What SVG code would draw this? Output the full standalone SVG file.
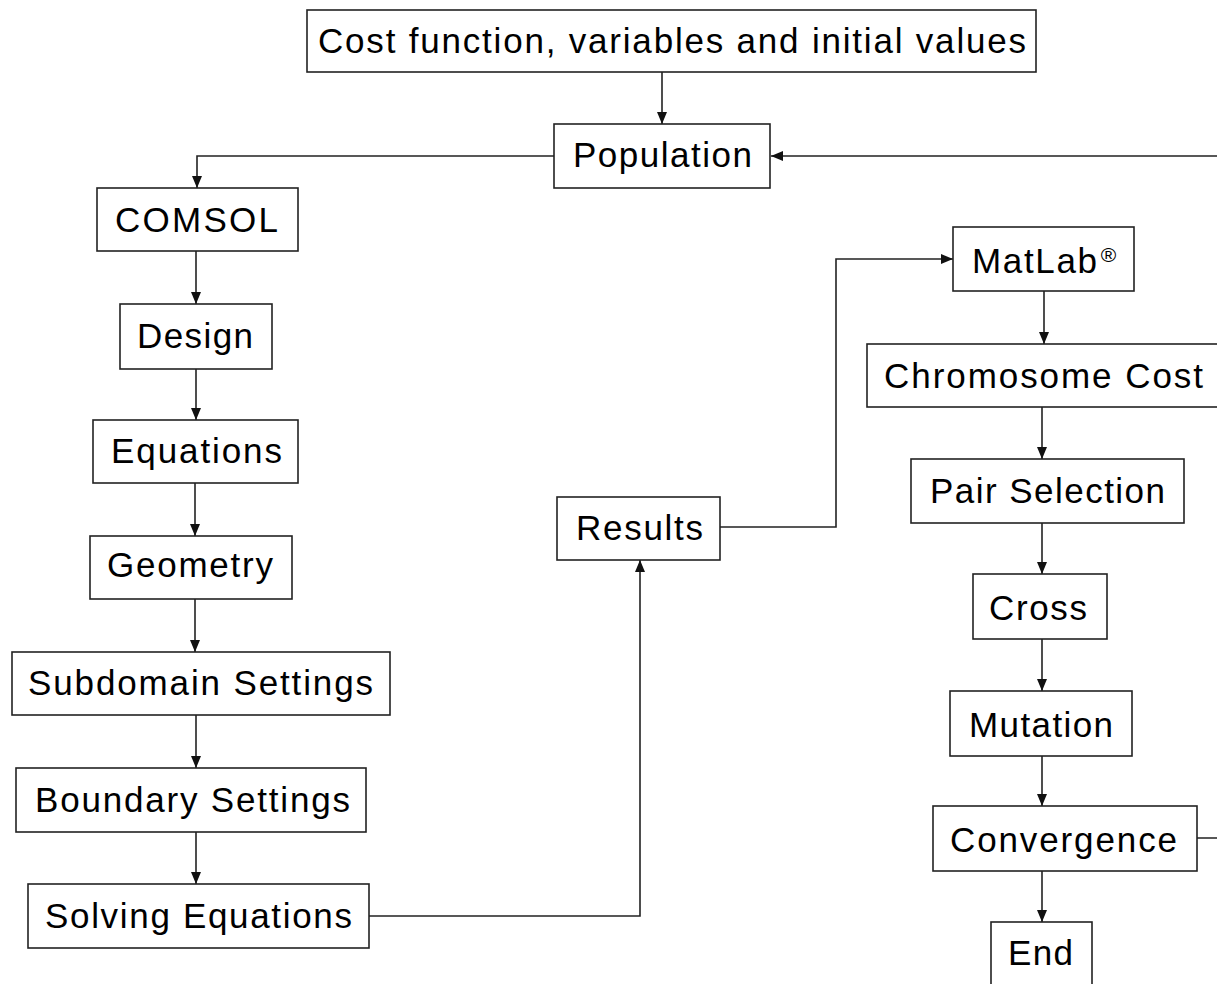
<svg xmlns="http://www.w3.org/2000/svg" width="1217" height="984" viewBox="0 0 1217 984">
<style>
  .box { fill: #ffffff; stroke: #222222; stroke-width: 1.6; }
  .lbl { font-family: "Liberation Sans", Arial, sans-serif; font-size: 35px; fill: #000000; text-anchor: middle; }
  .sup { font-size: 21px; }
  .conn { fill: none; stroke: #222222; stroke-width: 1.6; }
</style>
<defs>
  <marker id="arr" markerUnits="userSpaceOnUse" markerWidth="12" markerHeight="10" viewBox="0 0 12 10" refX="12" refY="5" orient="auto">
    <path d="M0,0 L12,5 L0,10 z" fill="#111111"/>
  </marker>
</defs>
<rect width="1217" height="984" fill="#ffffff"/>

<g id="connectors">
  <path class="conn" marker-end="url(#arr)" d="M662,72 V124"/>
  <path class="conn" marker-end="url(#arr)" d="M554,156 H197 V188"/>
  <path class="conn" marker-end="url(#arr)" d="M196,251 V304"/>
  <path class="conn" marker-end="url(#arr)" d="M196,369 V420"/>
  <path class="conn" marker-end="url(#arr)" d="M195,483 V536"/>
  <path class="conn" marker-end="url(#arr)" d="M195,599 V652"/>
  <path class="conn" marker-end="url(#arr)" d="M196,715 V768"/>
  <path class="conn" marker-end="url(#arr)" d="M196,832 V884"/>
  <path class="conn" marker-end="url(#arr)" d="M369,916 H640 V560"/>
  <path class="conn" marker-end="url(#arr)" d="M720,527 H836 V259 H953"/>
  <path class="conn" marker-end="url(#arr)" d="M1044,291 V344"/>
  <path class="conn" marker-end="url(#arr)" d="M1042,407 V459"/>
  <path class="conn" marker-end="url(#arr)" d="M1042,523 V574"/>
  <path class="conn" marker-end="url(#arr)" d="M1042,639 V691"/>
  <path class="conn" marker-end="url(#arr)" d="M1042,756 V806"/>
  <path class="conn" marker-end="url(#arr)" d="M1042,871 V922"/>
  <path class="conn" marker-end="url(#arr)" d="M1197,838 H1240 V156 H771"/>
</g>

<g id="cost-function">
  <rect class="box" x="307" y="10" width="729" height="62"/>
  <text class="lbl" x="672" y="53" textLength="708" lengthAdjust="spacing">Cost function, variables and initial values</text>
</g>
<g id="population">
  <rect class="box" x="554" y="124" width="216" height="64"/>
  <text class="lbl" x="662.5" y="167" textLength="179" lengthAdjust="spacing">Population</text>
</g>
<g id="comsol">
  <rect class="box" x="97" y="188" width="201" height="63"/>
  <text class="lbl" x="196.5" y="232" textLength="163" lengthAdjust="spacing">COMSOL</text>
</g>
<g id="design">
  <rect class="box" x="120" y="304" width="152" height="65"/>
  <text class="lbl" x="195" y="348" textLength="116" lengthAdjust="spacing">Design</text>
</g>
<g id="equations">
  <rect class="box" x="93" y="420" width="205" height="63"/>
  <text class="lbl" x="196.5" y="463" textLength="171" lengthAdjust="spacing">Equations</text>
</g>
<g id="geometry">
  <rect class="box" x="90" y="536" width="202" height="63"/>
  <text class="lbl" x="190" y="577" textLength="166" lengthAdjust="spacing">Geometry</text>
</g>
<g id="subdomain-settings">
  <rect class="box" x="12" y="652" width="378" height="63"/>
  <text class="lbl" x="200.5" y="695" textLength="345" lengthAdjust="spacing">Subdomain Settings</text>
</g>
<g id="boundary-settings">
  <rect class="box" x="16" y="768" width="350" height="64"/>
  <text class="lbl" x="192.5" y="812" textLength="315" lengthAdjust="spacing">Boundary Settings</text>
</g>
<g id="solving-equations">
  <rect class="box" x="28" y="884" width="341" height="64"/>
  <text class="lbl" x="198.5" y="928" textLength="307" lengthAdjust="spacing">Solving Equations</text>
</g>
<g id="results">
  <rect class="box" x="557" y="497" width="163" height="63"/>
  <text class="lbl" x="639.5" y="540" textLength="127" lengthAdjust="spacing">Results</text>
</g>
<g id="matlab">
  <rect class="box" x="953" y="227" width="181" height="64"/>
  <text class="lbl" x="1034.5" y="273" textLength="125" lengthAdjust="spacing">MatLab</text>
  <text class="lbl sup" x="1108.5" y="262">®</text>
</g>
<g id="chromosome-cost">
  <rect class="box" x="867" y="344" width="352" height="63"/>
  <text class="lbl" x="1043.5" y="388" textLength="319" lengthAdjust="spacing">Chromosome Cost</text>
</g>
<g id="pair-selection">
  <rect class="box" x="911" y="459" width="273" height="64"/>
  <text class="lbl" x="1047.5" y="503" textLength="235" lengthAdjust="spacing">Pair Selection</text>
</g>
<g id="cross">
  <rect class="box" x="973" y="574" width="134" height="65"/>
  <text class="lbl" x="1038" y="620" textLength="98" lengthAdjust="spacing">Cross</text>
</g>
<g id="mutation">
  <rect class="box" x="950" y="691" width="182" height="65"/>
  <text class="lbl" x="1041" y="737" textLength="144" lengthAdjust="spacing">Mutation</text>
</g>
<g id="convergence">
  <rect class="box" x="933" y="806" width="264" height="65"/>
  <text class="lbl" x="1063.5" y="852" textLength="227" lengthAdjust="spacing">Convergence</text>
</g>
<g id="end">
  <rect class="box" x="991" y="922" width="101" height="70"/>
  <text class="lbl" x="1040.5" y="965" textLength="65" lengthAdjust="spacing">End</text>
</g>
</svg>
